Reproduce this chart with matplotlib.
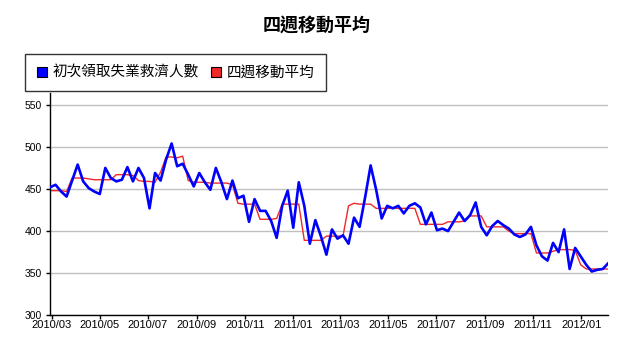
import matplotlib
matplotlib.use("Agg")
import matplotlib.pyplot as plt
import matplotlib.dates as mdates
from matplotlib.patches import Patch
import pandas as pd

# weekly initial claims (thousands) and the 4-week average
weeks = pd.date_range("2010-02-27", periods=102, freq="7D")

claims = [
    452, 455, 447, 441, 460, 479, 459, 451, 447, 444,
    475, 463, 459, 461, 476, 459, 475, 463, 427, 469,
    460, 485, 504, 477, 480, 467, 453, 469, 458, 449,
    475, 458, 438, 460, 439, 442, 411, 438, 424, 424,
    412, 392, 430, 448, 404, 458, 430, 385, 413, 394,
    372, 402, 391, 395, 385, 416, 405, 440, 478, 449,
    415, 430, 427, 430, 421, 430, 433, 428, 408, 422,
    401, 403, 400, 411, 422, 412, 419, 434, 405, 395,
    406, 412, 407, 403, 396, 393, 396, 405, 383, 370,
    365, 386, 375, 402, 355, 380, 370, 360, 352, 354,
    355, 362,
]

avg4 = [
    448, 448, 448, 447, 463, 463, 463, 462, 461, 461,
    461, 461, 467, 467, 467, 466, 460, 459, 459, 458,
    470, 488, 488, 487, 489, 460, 458, 458, 458, 457,
    457, 457, 457, 455, 433, 432, 432, 432, 414, 414,
    414, 415, 432, 432, 432, 432, 389, 389, 389, 389,
    394, 394, 394, 394, 430, 433, 432, 432, 432, 427,
    427, 427, 427, 427, 427, 427, 427, 408, 408, 408,
    408, 408, 411, 411, 411, 412, 418, 418, 418, 405,
    405, 405, 405, 400, 397, 397, 397, 397, 374, 374,
    374, 376, 378, 378, 378, 377, 360, 355, 355, 355,
    355, 355,
]

yticks = [300, 350, 400, 450, 500, 550]

cjk = ["Noto Sans CJK TC", "DejaVu Sans"]

fig = plt.figure(figsize=(6.34, 3.47), dpi=100)
ax = fig.add_axes([0.0789, 0.0914, 0.8806, 0.6406])

ax.plot(weeks, avg4, color="#f02828", lw=1.0, zorder=2)
ax.plot(weeks, claims, color="#0000ff", lw=1.9, solid_joinstyle="round", zorder=3)

ax.set_xlim(weeks[0], weeks[-1])
ax.set_ylim(300, 564)
ax.set_yticks(yticks)
ax.grid(axis="y", color="#c0c0c0", lw=1.0)
ax.set_axisbelow(True)

ax.xaxis.set_major_locator(mdates.MonthLocator(bymonth=[1, 3, 5, 7, 9, 11]))
ax.xaxis.set_major_formatter(mdates.DateFormatter("%Y/%m"))

for s in ["top", "right"]:
    ax.spines[s].set_visible(False)
for s in ["left", "bottom"]:
    ax.spines[s].set_color("black")
    ax.spines[s].set_linewidth(1.0)

ax.tick_params(axis="y", length=3, width=1, pad=3, labelsize=7.5, colors="black")
ax.tick_params(axis="x", length=3, width=1, pad=0.5, labelsize=8, colors="black")
for lab in ax.get_yticklabels():
    lab.set_family(["Liberation Sans", "DejaVu Sans"])
for lab in ax.get_xticklabels():
    lab.set_family(["Liberation Sans Narrow", "Liberation Sans"])

fig.text(0.5, 0.929, "四週移動平均", ha="center", va="center",
         fontsize=13, fontweight="bold", family=cjk)

handles = [
    Patch(facecolor="#0000ff", edgecolor="black", lw=0.8, label="初次領取失業救濟人數"),
    Patch(facecolor="#f02828", edgecolor="black", lw=0.8, label="四週移動平均"),
]
leg = fig.legend(handles=handles, loc="upper left",
                 bbox_to_anchor=(25 / 634, 1 - 54 / 347),
                 ncol=2, frameon=True, fancybox=False,
                 prop={"family": cjk, "size": 10.5},
                 handlelength=0.7, handleheight=0.7, handletextpad=0.4,
                 columnspacing=0.8, borderpad=0.8, borderaxespad=0)
leg.get_frame().set_edgecolor("black")
leg.get_frame().set_linewidth(1.0)

fig.savefig("out.png", dpi=100)
